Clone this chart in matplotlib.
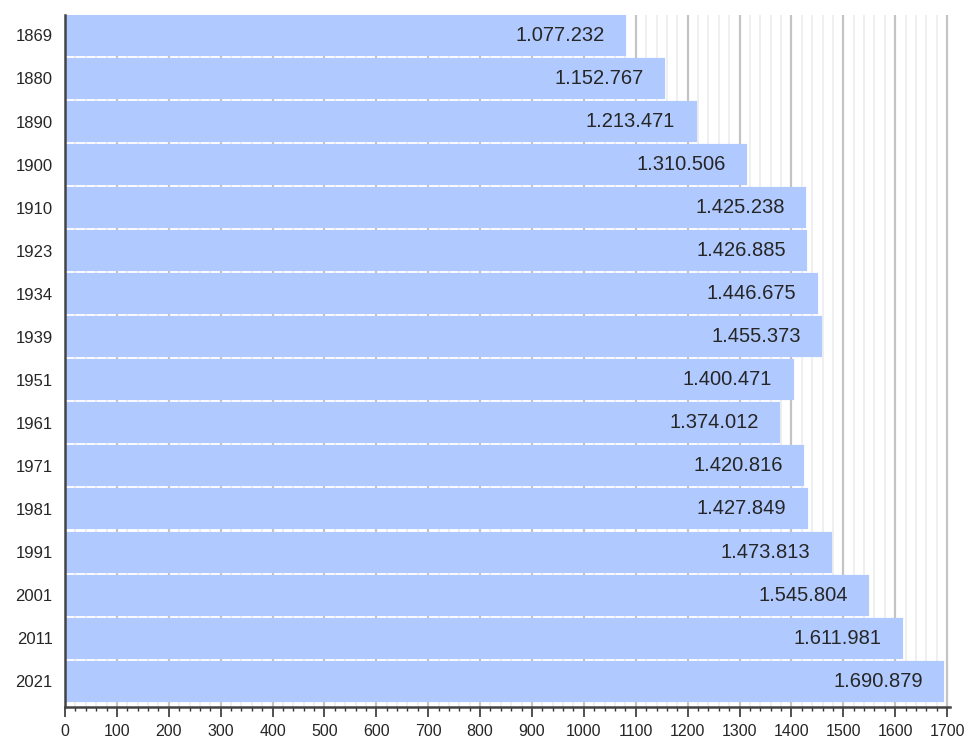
import matplotlib
matplotlib.use("Agg")
import matplotlib.pyplot as plt
from matplotlib.ticker import MultipleLocator

years = ["1869", "1880", "1890", "1900", "1910", "1923", "1934", "1939",
         "1951", "1961", "1971", "1981", "1991", "2001", "2011", "2021"]
population = [1077232, 1152767, 1213471, 1310506, 1425238, 1426885, 1446675,
              1455373, 1400471, 1374012, 1420816, 1427849, 1473813, 1545804,
              1611981, 1690879]
labels = ["1.077.232", "1.152.767", "1.213.471", "1.310.506", "1.425.238",
          "1.426.885", "1.446.675", "1.455.373", "1.400.471", "1.374.012",
          "1.420.816", "1.427.849", "1.473.813", "1.545.804", "1.611.981",
          "1.690.879"]

# bar lengths in thousands of inhabitants
values_k = [p / 1000 for p in population]

plt.rcParams["font.family"] = ["Liberation Sans", "DejaVu Sans"]

fig = plt.figure(figsize=(9.71, 7.38), dpi=100)
ax = fig.add_axes([0.067, 0.042, 0.911, 0.938])

bar_color = "#b0c9ff"
pos = list(range(len(years)))
ax.barh(pos, values_k, height=0.86, color=bar_color, edgecolor=bar_color,
        linewidth=3, zorder=2)

for y, v, t in zip(pos, values_k, labels):
    ax.annotate(t, xy=(v, y), xytext=(-14, 0), textcoords="offset points",
                ha="right", va="center", fontsize=14.5, color="#262626",
                zorder=3)

ax.set_xlim(0, 1705)
ax.set_ylim(15.6, -0.48)
ax.set_yticks(pos)
ax.set_yticklabels(years, fontsize=12, color="#262626")
ax.tick_params(axis="y", length=0, pad=9)

ax.xaxis.set_major_locator(MultipleLocator(100))
ax.xaxis.set_minor_locator(MultipleLocator(20))
ax.tick_params(axis="x", which="major", length=7, width=1.2, direction="out",
               labelsize=11.5, labelcolor="#262626", color="#333333", pad=5)
ax.tick_params(axis="x", which="minor", length=3, width=1.0, direction="out",
               color="#333333")

ax.grid(axis="x", which="major", color="#c4c4c4", linewidth=1.6, zorder=0)
ax.grid(axis="x", which="minor", color="#ececec", linewidth=1.2, zorder=0)
ax.set_axisbelow(True)

for s in ("top", "right"):
    ax.spines[s].set_visible(False)
ax.spines["left"].set_color("#444444")
ax.spines["left"].set_linewidth(1.8)
ax.spines["bottom"].set_color("#444444")
ax.spines["bottom"].set_linewidth(1.8)

fig.savefig("out.png", dpi=100)
